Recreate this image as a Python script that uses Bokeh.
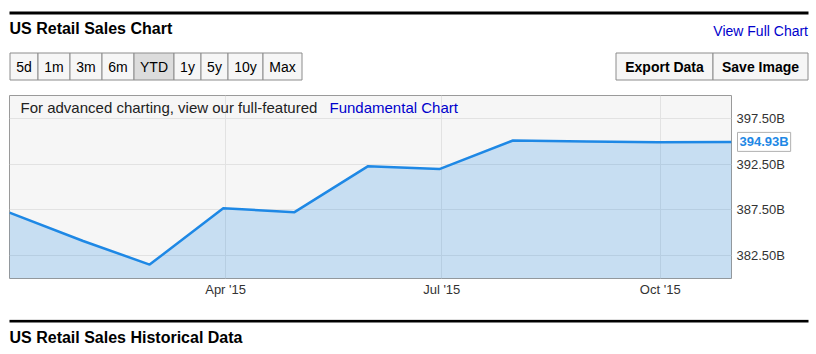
import pandas as pd
from bokeh.plotting import figure
from bokeh.layouts import column
from bokeh.models import (Range1d, FixedTicker, PrintfTickFormatter, DatetimeTickFormatter,
                          Label)
from bokeh.core.properties import value
from bokeh.core.enums import CoordinateUnits
from bokeh.embed import file_html
from bokeh.resources import INLINE

# ---------------- data ----------------
dates = ["2014-12-31", "2015-01-31", "2015-02-28", "2015-03-31", "2015-04-30", "2015-05-31",
         "2015-06-30", "2015-07-31", "2015-08-31", "2015-09-30", "2015-10-31"]
sales_b = [387.20, 384.10, 381.52, 387.67, 387.25, 392.28, 391.96, 395.08, 394.98, 394.90, 394.93]
y_ticks = [382.5, 387.5, 392.5, 397.5]
x_tick_dates = ["2015-04-01", "2015-07-01", "2015-10-01"]
range_buttons = ["5d", "1m", "3m", "6m", "YTD", "1y", "5y", "10y", "Max"]
action_buttons = ["Export Data", "Save Image"]
title_text = "US Retail Sales Chart"
footer_text = "US Retail Sales Historical Data"
link_text = "View Full Chart"
note_text = "For advanced charting, view our full-featured "
note_link = "Fundamental Chart"

FONT = value("Liberation Sans")
W = 816
LINE_BLUE = "#1e88e5"
LINK_BLUE = "#0000cc"


def no_align(fig):
    if "frame_align" in fig.properties():
        fig.frame_align = False


# ---------------- header ----------------
hdr = figure(width=W, height=90, x_range=Range1d(0, W), y_range=Range1d(90, 0),
             output_backend="svg", toolbar_location=None,
             x_axis_location=None, y_axis_location=None, min_border=0)
no_align(hdr)
hdr.grid.visible = False
hdr.outline_line_color = None
hdr.background_fill_color = "white"
hdr.border_fill_color = "white"

hdr.quad(left=[9], right=[808], top=[11], bottom=[14], fill_color="black", line_color=None)
hdr.text(x=[9], y=[27.5], text=[title_text], text_font=FONT, text_font_size="16px",
         text_font_style="bold", text_color="black", text_baseline="middle", text_align="left")
hdr.text(x=[807.5], y=[30], text=[link_text], text_font=FONT, text_font_size="14px",
         text_color=LINK_BLUE, text_baseline="middle", text_align="right")

btn_edges = [9.5, 37.5, 69.5, 101.5, 133.5, 173.5, 200.5, 227.5, 262.5, 301.5]
lefts = btn_edges[:-1]
rights = btn_edges[1:]
fills = ["#dcdcdc" if b == "YTD" else "#f6f6f6" for b in range_buttons]
hdr.quad(left=lefts, right=rights, top=[52.5] * 9, bottom=[79.5] * 9,
         fill_color=fills, line_color="#8c8c8c", line_width=1)
hdr.text(x=[(a + b) / 2 for a, b in zip(lefts, rights)], y=[66.5] * 9, text=range_buttons,
         text_font=FONT, text_font_size="14px", text_color="black",
         text_align="center", text_baseline="middle")

act_edges = [615.5, 712.5, 807.5]
hdr.quad(left=act_edges[:-1], right=act_edges[1:], top=[52.5] * 2, bottom=[79.5] * 2,
         fill_color="#f6f6f6", line_color="#8c8c8c", line_width=1)
hdr.text(x=[(a + b) / 2 for a, b in zip(act_edges[:-1], act_edges[1:])], y=[66.5] * 2,
         text=action_buttons, text_font=FONT, text_font_size="14px", text_font_style="bold",
         text_color="black", text_align="center", text_baseline="middle")

# ---------------- main chart ----------------
x = pd.to_datetime(dates)
y0, y1 = 380, 400
p = figure(width=W, height=229, x_axis_type="datetime", y_axis_location="right",
           x_range=Range1d(x[0], x[-1]), y_range=Range1d(y0, y1),
           output_backend="svg", toolbar_location=None)
no_align(p)
p.min_border_left = 9
p.min_border_right = 85
p.min_border_top = 5
p.min_border_bottom = 41
p.background_fill_color = "#f6f6f6"
p.border_fill_color = "white"
p.outline_line_color = "#9a9a9a"
p.outline_line_width = 1

p.varea(x=x, y1=[y0] * len(x), y2=sales_b, fill_color=LINE_BLUE, fill_alpha=0.22)
p.line(x=x, y=sales_b, line_color=LINE_BLUE, line_width=2.5)

ms = [int(pd.Timestamp(d).value // 10**6) for d in x_tick_dates]
p.xaxis.ticker = FixedTicker(ticks=ms)
fmt = "%b '%y"
p.xaxis.formatter = DatetimeTickFormatter(microseconds=fmt, milliseconds=fmt, seconds=fmt,
                                          minsec=fmt, minutes=fmt, hourmin=fmt, hours=fmt,
                                          days=fmt, months=fmt, years=fmt)
p.yaxis.ticker = FixedTicker(ticks=y_ticks)
p.yaxis.formatter = PrintfTickFormatter(format="%.2fB")
for ax in (p.xaxis, p.yaxis):
    ax.axis_line_color = None
    ax.major_tick_line_color = None
    ax.minor_tick_line_color = None
    ax.major_tick_out = 0
    ax.major_tick_in = 0
    ax.minor_tick_out = 0
    ax.minor_tick_in = 0
    ax.major_label_text_font = "Liberation Sans"
    ax.major_label_text_font_size = "13px"
    ax.major_label_text_color = "#333333"
p.xaxis.major_label_standoff = 3
p.yaxis.major_label_standoff = 5
p.grid.grid_line_color = "#e2e2e2"
p.grid.grid_line_width = 1

p.add_layout(Label(x=11, y=171, x_units="screen", y_units="screen", text=note_text,
                   text_font="Liberation Sans", text_font_size="15px", text_color="#222222",
                   text_baseline="middle"))
p.add_layout(Label(x=320, y=171, x_units="screen", y_units="screen", text=note_link,
                   text_font="Liberation Sans", text_font_size="15px", text_color=LINK_BLUE,
                   text_baseline="middle"))

# last-value callout, kept in the outermost bottom panel so it is not clipped
if "canvas" in CoordinateUnits:
    cx, cunits = 737, "canvas"
else:
    cx, cunits = 728, "screen"
callout = Label(x=cx, y=sales_b[-1], x_units=cunits, y_units="data",
                text=f"{sales_b[-1]:.2f}B",
                text_font="Liberation Sans", text_font_size="13px", text_font_style="bold",
                text_color=LINE_BLUE, text_baseline="middle",
                background_fill_color="white", border_line_color="#b0b0b0", padding=2)
p.add_layout(callout, "below")

# ---------------- footer ----------------
ftr = figure(width=W, height=35, x_range=Range1d(0, W), y_range=Range1d(35, 0),
             output_backend="svg", toolbar_location=None,
             x_axis_location=None, y_axis_location=None, min_border=0)
no_align(ftr)
ftr.grid.visible = False
ftr.outline_line_color = None
ftr.background_fill_color = "white"
ftr.border_fill_color = "white"
ftr.quad(left=[9], right=[808], top=[0.3], bottom=[3.0], fill_color="black", line_color=None)
ftr.text(x=[9], y=[17.5], text=[footer_text], text_font=FONT, text_font_size="16px",
         text_font_style="bold", text_color="black", text_baseline="middle", text_align="left")

layout = column(hdr, p, ftr, spacing=0)
open("out.html", "w").write(file_html(layout, INLINE))
